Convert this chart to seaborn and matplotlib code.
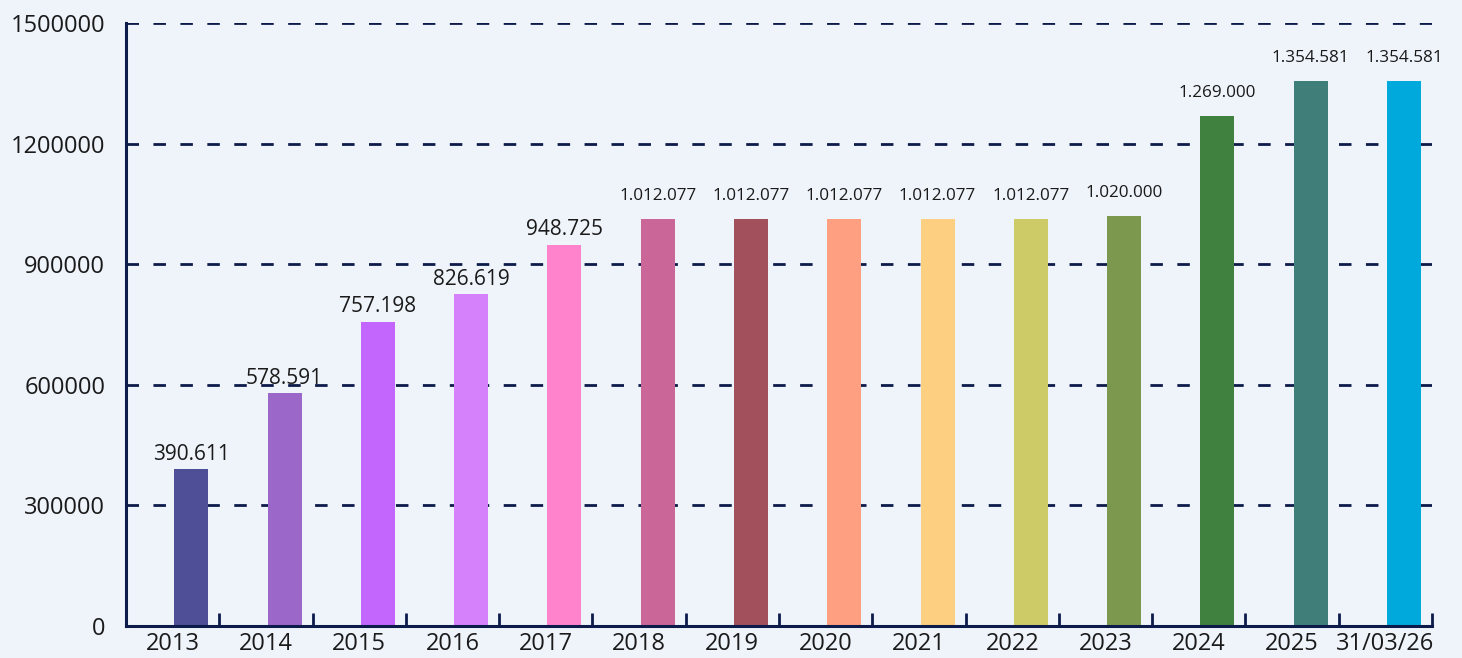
import matplotlib
matplotlib.use("Agg")
import matplotlib.pyplot as plt
import seaborn as sns
import pandas as pd
from matplotlib.ticker import FixedLocator

categories = ["2013", "2014", "2015", "2016", "2017", "2018", "2019", "2020",
              "2021", "2022", "2023", "2024", "2025", "31/03/26"]
values = [390611, 578591, 757198, 826619, 948725, 1012077, 1012077, 1012077,
          1012077, 1012077, 1020000, 1269000, 1354581, 1354581]
value_labels = ["390.611", "578.591", "757.198", "826.619", "948.725", "1.012.077",
                "1.012.077", "1.012.077", "1.012.077", "1.012.077", "1.020.000",
                "1.269.000", "1.354.581", "1.354.581"]
colors = ["#4f4f98", "#9b68c9", "#c266fe", "#d581fb", "#fe83cc", "#cb6699", "#a2505c",
          "#fe9f82", "#fdcf80", "#cccb67", "#7c984f", "#40813f", "#407f79", "#00a9dc"]
y_ticks = [0, 300000, 600000, 900000, 1200000, 1500000]

bg = "#eff4fb"
navy = "#0d1b4a"

sns.set_theme(style="white")
plt.rcParams["font.family"] = ["Open Sans", "DejaVu Sans"]

fig = plt.figure(figsize=(14.62, 6.58), dpi=100, facecolor=bg)
ax = fig.add_axes([126/1462, 32/658, (1432-126)/1462, (626-23)/658])
ax.set_facecolor(bg)

df = pd.DataFrame({"cat": categories, "val": values})
sns.barplot(data=df, x="cat", y="val", hue="cat", palette=colors, width=0.365,
            legend=False, ax=ax, saturation=1, zorder=3, linewidth=0)

shift = 0.2
for p in ax.patches:
    p.set_x(p.get_x() + shift)

for i, (v, lab) in enumerate(zip(values, value_labels)):
    big = v < 1000000
    fs = 15 if big else 12.3
    off = 3 if big else 11
    ax.annotate(lab, (i + shift, v), xytext=(0, off), textcoords="offset points",
                ha="center", va="bottom", fontsize=fs, color="#1a1a1a")

ax.set_xlim(-0.5, 13.5)
ax.set_ylim(0, 1500000)
ax.set_yticks(y_ticks)
ax.set_yticklabels([str(t) for t in y_ticks])
ax.set_xlabel("")
ax.set_ylabel("")

for t in y_ticks[1:]:
    ax.axhline(t, color=navy, lw=2, linestyle=(0, (4.5, 5.2)), zorder=1)

ax.xaxis.set_minor_locator(FixedLocator([i + 0.5 for i in range(14)]))
ax.tick_params(axis="x", which="major", length=0, labelsize=17, pad=4.5, colors="#1a1a1a")
ax.tick_params(axis="x", which="minor", direction="in", length=9.5, width=2, color=navy, bottom=True)
ax.tick_params(axis="y", length=0, labelsize=17, pad=15, colors="#1a1a1a")

for s in ["top", "right"]:
    ax.spines[s].set_visible(False)
for s in ["left", "bottom"]:
    ax.spines[s].set_color(navy)
    ax.spines[s].set_linewidth(2.2)
    ax.spines[s].set_zorder(4)

fig.savefig("out.png", dpi=100, facecolor=bg)
